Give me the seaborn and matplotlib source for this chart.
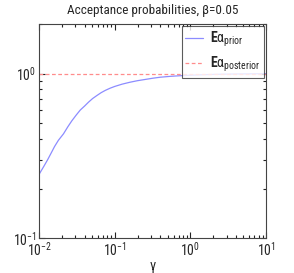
import numpy as np
import pandas as pd
import seaborn as sns
import matplotlib
matplotlib.use("Agg")
import matplotlib.pyplot as plt
from matplotlib.ticker import LogLocator, NullFormatter

gamma = [0.01, 0.0115, 0.013, 0.0145, 0.016, 0.018, 0.021, 0.024, 0.027, 0.031, 0.035,
         0.040, 0.045, 0.051, 0.058, 0.066, 0.075, 0.087, 0.1, 0.125, 0.158, 0.2,
         0.25, 0.32, 0.4, 0.55, 0.73, 1.0, 1.4, 2.0, 3.0, 5.0, 10.0]
e_prior = [0.244, 0.272, 0.30, 0.33, 0.36, 0.393, 0.43, 0.475, 0.515, 0.56, 0.60,
           0.635, 0.67, 0.705, 0.735, 0.765, 0.79, 0.815, 0.835, 0.862, 0.885, 0.905,
           0.92, 0.937, 0.95, 0.962, 0.97, 0.977, 0.983, 0.988, 0.992, 0.995, 0.998]
e_posterior = [1.0] * len(gamma)

df = pd.DataFrame({"gamma": gamma, "prior": e_prior, "posterior": e_posterior})

sns.set_style("ticks", {"xtick.direction": "in", "ytick.direction": "in"})
plt.rcParams['font.family'] = ['Roboto Condensed', 'Liberation Sans', 'DejaVu Sans']
plt.rcParams['mathtext.fontset'] = 'custom'
plt.rcParams['mathtext.rm'] = 'Roboto Condensed'
plt.rcParams['mathtext.it'] = 'Roboto Condensed'
plt.rcParams['mathtext.bf'] = 'Roboto Condensed:bold'

fig = plt.figure(figsize=(2.94, 2.73), dpi=100)
ax = fig.add_axes([0.133, 0.128, 0.772, 0.784])

sns.lineplot(data=df, x="gamma", y="prior", ax=ax, color="#8c8cff", linewidth=0.9,
             label=r'$\mathbf{E}\mathrm{α}_{\mathrm{prior}}$')
sns.lineplot(data=df, x="gamma", y="posterior", ax=ax, color="#ff8c8c", linewidth=0.9,
             linestyle=(0, (3, 2)), label=r'$\mathbf{E}\mathrm{α}_{\mathrm{posterior}}$')

ax.set_xscale('log')
ax.set_yscale('log')
ax.set_xlim(0.01, 10)
ax.set_ylim(0.1, 2.0)
ax.set_xticks([0.01, 0.1, 1, 10])
ax.set_yticks([0.1, 1])
ax.xaxis.set_minor_locator(LogLocator(base=10, subs=np.arange(2, 10), numticks=20))
ax.yaxis.set_minor_locator(LogLocator(base=10, subs=np.arange(2, 10), numticks=20))
ax.xaxis.set_minor_formatter(NullFormatter())
ax.yaxis.set_minor_formatter(NullFormatter())
ax.tick_params(which='both', direction='in', top=True, right=True, bottom=True, left=True,
               labelsize=10, color='#222222', pad=2)
ax.tick_params(which='major', length=4, width=0.8)
ax.tick_params(which='minor', length=2.5, width=0.8)
for s in ax.spines.values():
    s.set_visible(True)
    s.set_color('#444444')
    s.set_linewidth(0.8)
ax.set_xlabel('γ', fontsize=10, labelpad=0)
ax.set_ylabel('')
ax.set_title('Acceptance probabilities, β=0.05', fontsize=9.5, pad=7)

leg = ax.legend(loc='upper right', fontsize=10, frameon=True, fancybox=False,
                borderpad=0.25, handlelength=1.3, handletextpad=0.5,
                labelspacing=0.45, borderaxespad=0.15)
leg.get_frame().set_edgecolor('#333333')
leg.get_frame().set_linewidth(0.8)

fig.savefig("out.png", dpi=100)
